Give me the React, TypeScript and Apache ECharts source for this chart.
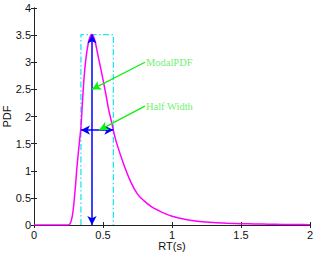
import React, { useEffect, useRef } from "react";
import * as echarts from "echarts";

const rtValues = [0, 0.1, 0.2, 0.25, 0.26, 0.27, 0.28, 0.29, 0.3, 0.31, 0.32, 0.33, 0.34, 0.35, 0.36, 0.37, 0.38, 0.39, 0.4, 0.41, 0.42, 0.43, 0.44, 0.45, 0.46, 0.47, 0.48, 0.5, 0.52, 0.54, 0.56, 0.58, 0.6, 0.65, 0.7, 0.75, 0.8, 0.85, 0.9, 0.95, 1.0, 1.1, 1.2, 1.3, 1.4, 1.5, 1.6, 1.7, 1.8, 1.9, 2.0];
const pdfValues = [0, 0, 0, 0, 0.02, 0.08, 0.2, 0.42, 0.7, 1.03, 1.3, 1.55, 1.8, 2.22, 2.62, 2.92, 3.14, 3.3, 3.42, 3.49, 3.51, 3.48, 3.41, 3.3, 3.17, 3.05, 2.93, 2.68, 2.42, 2.14, 1.92, 1.69, 1.5, 1.12, 0.8, 0.57, 0.44, 0.34, 0.27, 0.21, 0.16, 0.1, 0.065, 0.045, 0.033, 0.025, 0.019, 0.014, 0.01, 0.008, 0.006];

const xTicks = ["0", "0.5", "1", "1.5", "2"];
const modeRT = 0.42;
const modePDF = 3.51;
const halfLeft = 0.34;
const halfRight = 0.575;
const halfPDF = 1.75;
const labelNames = ["ModalPDF", "Half Width"];
const labelPoints: [number, number][] = [[0.804, 3.0], [0.804, 2.19]];
const arrowTips: [number, number][] = [[0.42, 2.5], [0.473, 1.75]];

export default function App() {
  const ref = useRef<HTMLDivElement>(null);
  useEffect(() => {
    if (!ref.current) return;
    const chart = echarts.init(ref.current, undefined, { renderer: "svg" });
    const axisCommon = {
      type: "value" as const,
      axisLine: { show: true, lineStyle: { color: "#222", width: 1 } },
      axisTick: { show: true, inside: true, length: 3, lineStyle: { color: "#222" } },
      splitLine: { show: false },
    };
    const labelFont = { color: "#111", fontSize: 11, fontFamily: "Liberation Sans, Arial, sans-serif" };
    chart.setOption({
      animation: false,
      grid: { left: 34, top: 8, right: 6, bottom: 29, containLabel: false, outerBoundsMode: "none" },
      xAxis: [
        {
          ...axisCommon,
          position: "bottom",
          min: 0,
          max: 2,
          interval: 0.5,
          name: "RT(s)",
          nameLocation: "middle",
          nameGap: 15,
          nameMoveOverlap: false,
          nameTextStyle: labelFont,
          axisLabel: { ...labelFont, margin: 4, formatter: (v: number) => xTicks[Math.round(v / 0.5)] ?? String(v) },
        },
        { ...axisCommon, position: "top", min: 0, max: 2, interval: 0.5, axisLabel: { show: false } },
      ],
      yAxis: [
        {
          ...axisCommon,
          position: "left",
          min: 0,
          max: 4,
          interval: 0.5,
          name: "PDF",
          nameLocation: "middle",
          nameGap: 22,
          nameMoveOverlap: false,
          nameTextStyle: labelFont,
          axisLabel: { ...labelFont, margin: 3 },
        },
        { ...axisCommon, position: "right", min: 0, max: 4, interval: 0.5, axisLabel: { show: false } },
      ],
      series: [
        {
          type: "line",
          xAxisIndex: 0,
          yAxisIndex: 0,
          data: [
            [halfLeft, 0],
            [halfLeft, modePDF],
            [halfRight, modePDF],
            [halfRight, 0],
          ],
          showSymbol: false,
          symbol: "none",
          lineStyle: { color: "#1ee6f2", width: 1.3, type: [6, 2.5, 1.5, 2.5] },
          silent: true,
          z: 1,
        },
        {
          type: "line",
          xAxisIndex: 0,
          yAxisIndex: 0,
          data: rtValues.map((x, i) => [x, pdfValues[i]]),
          smooth: 0.3,
          showSymbol: false,
          symbol: "none",
          lineStyle: { color: "#ff00ff", width: 1.5 },
          silent: true,
          z: 2,
          markLine: {
            silent: true,
            animation: false,
            symbol: ["none", "arrow"],
            symbolSize: [7, 9],
            label: { show: false },
            emphasis: { disabled: true },
            data: [
              [
                { coord: [modeRT, modePDF], symbol: "arrow", lineStyle: { color: "#0000ff", width: 1.5, type: "solid" } },
                { coord: [modeRT, 0] },
              ],
              [
                { coord: [halfLeft, halfPDF], symbol: "arrow", lineStyle: { color: "#0000ff", width: 1.5, type: "solid" } },
                { coord: [halfRight, halfPDF] },
              ],
              [
                { coord: labelPoints[0], lineStyle: { color: "#11ee11", width: 1.3, type: "solid" } },
                { coord: arrowTips[0] },
              ],
              [
                { coord: labelPoints[1], lineStyle: { color: "#11ee11", width: 1.3, type: "solid" } },
                { coord: arrowTips[1] },
              ],
            ],
          },
        },
        {
          type: "scatter",
          xAxisIndex: 0,
          yAxisIndex: 0,
          symbolSize: 0,
          silent: true,
          data: labelPoints.map((p, i) => ({ value: p, name: labelNames[i] })),
          label: {
            show: true,
            position: "right",
            distance: 1,
            formatter: (p: any) => p.name,
            color: "#44ee44",
            fontSize: 10.5,
            fontFamily: "Liberation Serif, Times New Roman, serif",
          },
          z: 5,
        },
      ],
    });
    return () => chart.dispose();
  }, []);
  return <div ref={ref} style={{ position: "fixed", left: 0, top: 0, width: 316, height: 254, background: "#fff" }} />;
}
